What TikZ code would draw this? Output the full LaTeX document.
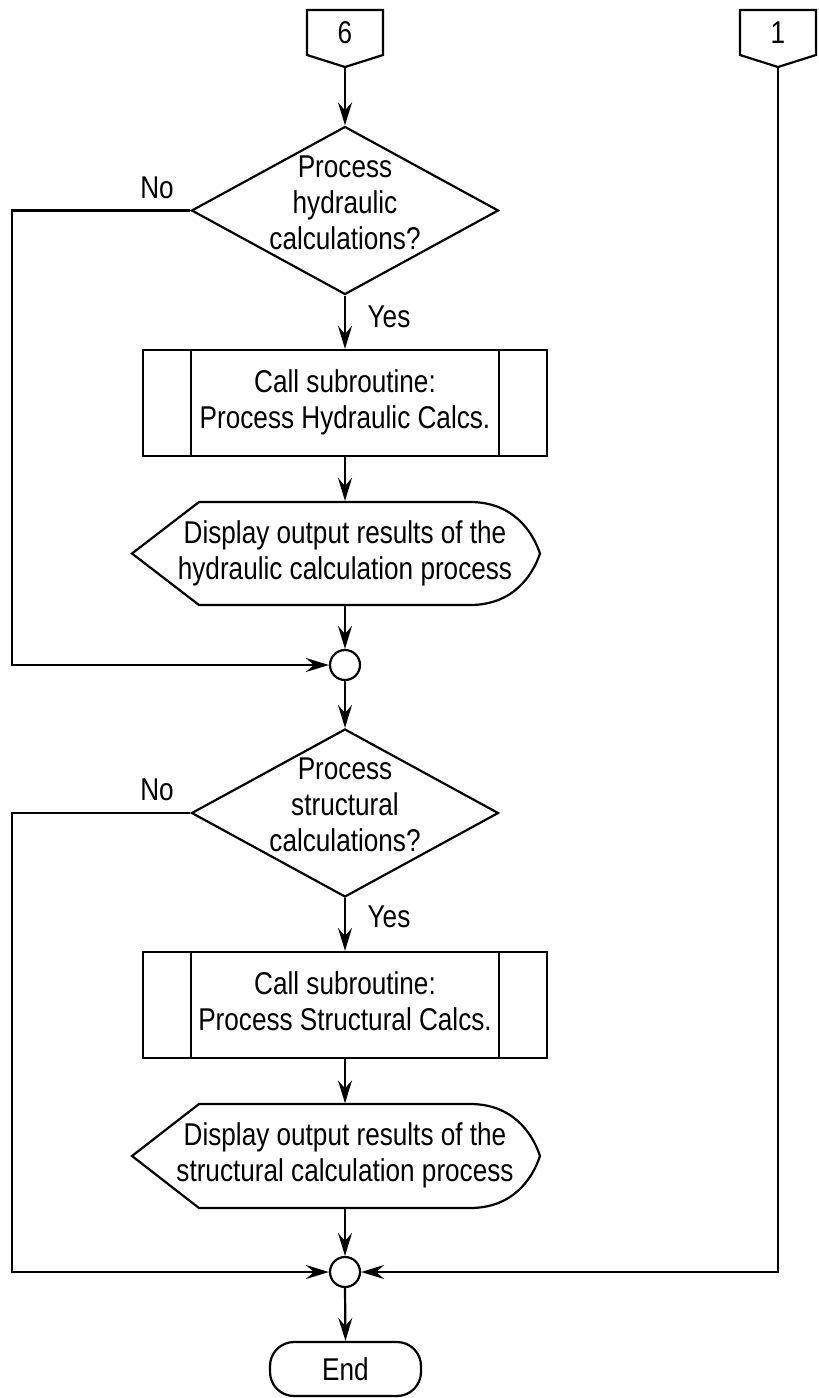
\documentclass[tikz,border=0pt]{standalone}
\usepackage{fontspec}
\setmainfont{Liberation Sans}[FakeStretch=0.83]
\usetikzlibrary{arrows.meta,shapes.geometric}

\begin{document}
\begin{tikzpicture}[x=1pt,y=-1pt,
  line width=2.2pt,
  every node/.style={font=\fontsize{31.5}{36}\selectfont, inner sep=0pt},
  flow/.style={-{Stealth[length=23pt,width=14pt,inset=8pt]}},
  decision/.style={diamond, draw, minimum width=307pt, minimum height=168pt},
  % two- and three-line text blocks, boxed from first cap line to last descender
  twoline/.style={align=center, text height=58pt, text depth=7pt},
  threeline/.style={align=center, text height=94pt, text depth=7pt},
  subr/.style={rectangle, draw, minimum width=404pt, minimum height=106pt, twoline},
  display/.style={twoline, minimum width=408pt, minimum height=103pt},
  junction/.style={circle, draw, minimum size=30pt},
  terminal/.style={rectangle, rounded corners=24pt, draw,
                   minimum width=151pt, minimum height=54pt}
]
\useasboundingbox (0,0) rectangle (819,1398);

% off-page connectors
\node (c6) at (345,33) {6};
\coordinate (c6tip) at (345,67);
\draw (307,10) -- (383,10) -- (383,55) -- (c6tip) -- (307,55) -- cycle;
\node (c1) at (778,33) {1};
\coordinate (c1tip) at (778,67);
\draw (740,10) -- (816,10) -- (816,55) -- (c1tip) -- (740,55) -- cycle;

% hydraulic branch
\node[decision] (d1) at (345,210.5) {};
\node[threeline] (d1t) at (345,205.5) {Process\\hydraulic\\calculations?};
\node (no1) at (157,188) {No};
\node (yes1) at (389,317) {Yes};

\node[subr] (s1) at (345,403) {Call subroutine:\\Process Hydraulic Calcs.};
\draw ([xshift=49pt]s1.north west) -- ([xshift=49pt]s1.south west);
\draw ([xshift=-49pt]s1.north east) -- ([xshift=-49pt]s1.south east);

\node[display] (disp1) at (345,553.5) {Display output results of the\\hydraulic calculation process};
\draw (132,553.5) -- (199,502) -- (470,502)
  .. controls (512,502) and (532,530) .. (540,553.5)
  .. controls (532,577) and (512,605) .. (470,605) -- (199,605) -- cycle;

\node[junction] (j1) at (345,665) {};
\coordinate (left1) at (12,665);

% structural branch
\node[decision] (d2) at (345,813) {};
\node[threeline] (d2t) at (345,808) {Process\\structural\\calculations?};
\node (no2) at (157,790) {No};
\node (yes2) at (389,917) {Yes};

\node[subr] (s2) at (345,1005) {Call subroutine:\\Process Structural Calcs.};
\draw ([xshift=49pt]s2.north west) -- ([xshift=49pt]s2.south west);
\draw ([xshift=-49pt]s2.north east) -- ([xshift=-49pt]s2.south east);

\node[display] (disp2) at (345,1156) {Display output results of the\\structural calculation process};
\draw (132,1156) -- (199,1104) -- (470,1104)
  .. controls (512,1104) and (532,1132) .. (540,1156)
  .. controls (532,1180) and (512,1208) .. (470,1208) -- (199,1208) -- cycle;

\node[junction] (j2) at (345,1272) {};
\coordinate (left2) at (12,1272);

\node[terminal] (end) at (345.5,1369) {End};

% connectors
\draw[flow] (c6tip) -- (d1.north);
\draw[flow] (d1.south) -- (s1.north);
\draw[flow] (s1.south) -- (disp1.north);
\draw[flow] (disp1.south) -- (j1.north);
\draw[flow] (d1.west) -| (left1) -- (j1.west);
\draw[flow] (j1.south) -- (d2.north);
\draw[flow] (d2.south) -- (s2.north);
\draw[flow] (s2.south) -- (disp2.north);
\draw[flow] (disp2.south) -- (j2.north);
\draw[flow] (d2.west) -| (left2) -- (j2.west);
\draw[flow] (c1tip) |- (j2.east);
\draw[flow] (j2.south) -- (end.north);
\end{tikzpicture}
\end{document}
